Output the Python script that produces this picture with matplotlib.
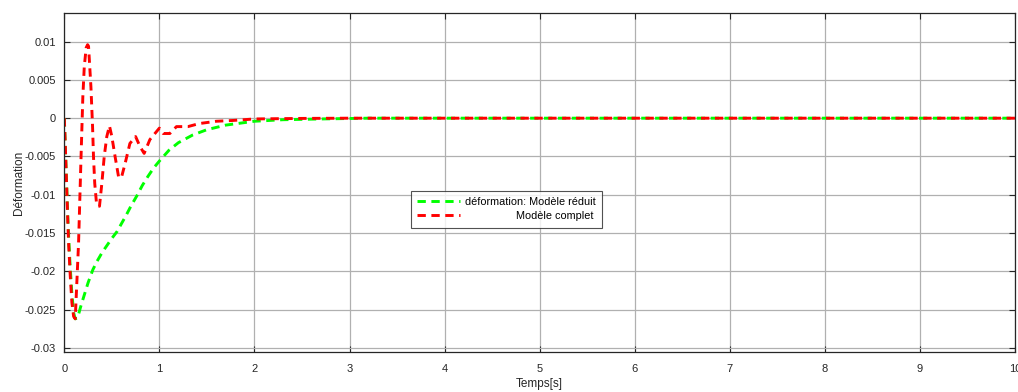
import numpy as np
import matplotlib
matplotlib.use('Agg')
import matplotlib.pyplot as plt

# Data
t_reduit = [0, 0.02, 0.04, 0.06, 0.08, 0.10, 0.115, 0.14, 0.168, 0.20, 0.25, 0.30,
            0.344, 0.40, 0.45, 0.50, 0.555, 0.60, 0.65, 0.70, 0.765, 0.82, 0.88,
            0.94, 1.0, 1.1, 1.2, 1.35, 1.5, 1.7, 2.0, 2.3, 2.7, 3.2, 10]
y_reduit = [0, -0.007, -0.014, -0.019, -0.023, -0.0255, -0.0262, -0.0261, -0.0248,
            -0.0235, -0.0215, -0.0198, -0.0187, -0.0175, -0.0166, -0.0157, -0.0148,
            -0.0138, -0.0127, -0.0115, -0.0101, -0.0088, -0.0076, -0.0065, -0.0056,
            -0.0042, -0.0032, -0.0022, -0.0015, -0.0009, -0.0004, -0.0002, -0.0001,
            0, 0]

t_complet = [0, 0.01, 0.028, 0.045, 0.063, 0.08, 0.098, 0.115, 0.13, 0.15, 0.16, 0.175,
             0.195, 0.21, 0.23, 0.245, 0.255, 0.28, 0.297, 0.307, 0.32, 0.34, 0.37,
             0.395, 0.42, 0.447, 0.475, 0.50, 0.534, 0.57, 0.60, 0.64, 0.69, 0.75,
             0.796, 0.84, 0.90, 1.0, 1.04, 1.11, 1.18, 1.30, 1.42, 1.6, 1.77, 2.0,
             2.5, 3.0, 10]
y_complet = [0, -0.0033, -0.0102, -0.0163, -0.0207, -0.0241, -0.0259, -0.0262, -0.022,
             -0.0163, -0.012, -0.0055, 0.0028, 0.0067, 0.0092, 0.0096, 0.0094, 0.0041,
             -0.001, -0.005, -0.0085, -0.0113, -0.0115, -0.0085, -0.005, -0.0024,
             -0.001, -0.0024, -0.005, -0.0076, -0.0078, -0.0059, -0.0033, -0.0024,
             -0.0037, -0.0046, -0.0028, -0.0013, -0.002, -0.002, -0.0011, -0.0011,
             -0.0007, -0.0004, -0.0003, -0.0001, -0.00003, 0, 0]

yticks = [0.01, 0.005, 0, -0.005, -0.01, -0.015, -0.02, -0.025, -0.03]
ytick_labels = ['0.01', '0.005', '0', '-0.005', '-0.01', '-0.015', '-0.02', '-0.025', '-0.03']
xticks = list(range(0, 11))

plt.rcParams['font.family'] = ['Liberation Sans', 'DejaVu Sans']
plt.rcParams['lines.scale_dashes'] = False

fig = plt.figure(figsize=(10.18, 3.92), dpi=100)
ax = fig.add_axes([64.3 / 1018, 1 - 351.7 / 392, (1015 - 64.3) / 1018, (351.7 - 13.3) / 392])

ax.plot(t_reduit, y_reduit, color='#00ff00', lw=2.1, dashes=[6, 4],
        label='déformation: Modèle réduit')
ax.plot(t_complet, y_complet, color='#ff0000', lw=2.1, dashes=[6, 4],
        label=' ' * 17 + 'Modèle complet')

ax.set_xlim(0, 10)
ax.set_ylim(-0.0305, 0.0137)
ax.set_xticks(xticks)
ax.set_xticklabels([str(v) for v in xticks])
ax.set_yticks(yticks)
ax.set_yticklabels(ytick_labels)

ax.grid(True, color='#b0b0b0', lw=0.9)
ax.set_axisbelow(True)
for s in ax.spines.values():
    s.set_color('#262626')
    s.set_linewidth(0.9)
ax.tick_params(direction='in', top=True, right=True, length=4, width=0.8,
               colors='#262626', labelsize=8, pad=6)
ax.tick_params(axis='x', pad=9)

ax.set_xlabel('Temps[s]', fontsize=8.5, color='#262626', labelpad=3)
ax.set_ylabel('Déformation', fontsize=8.5, color='#262626', labelpad=0)

leg = ax.legend(loc='upper left', bbox_to_anchor=((414 - 64.3) / 950.7, (351.7 - 194) / 338.4),
                fontsize=7.8, frameon=True, fancybox=False, edgecolor='#262626',
                handlelength=3.9, handletextpad=0.5, borderpad=0.3, labelspacing=0.35,
                borderaxespad=0)
leg.get_frame().set_linewidth(0.8)
leg.get_frame().set_boxstyle('square', pad=0.3)

fig.savefig('out.png', dpi=100)
